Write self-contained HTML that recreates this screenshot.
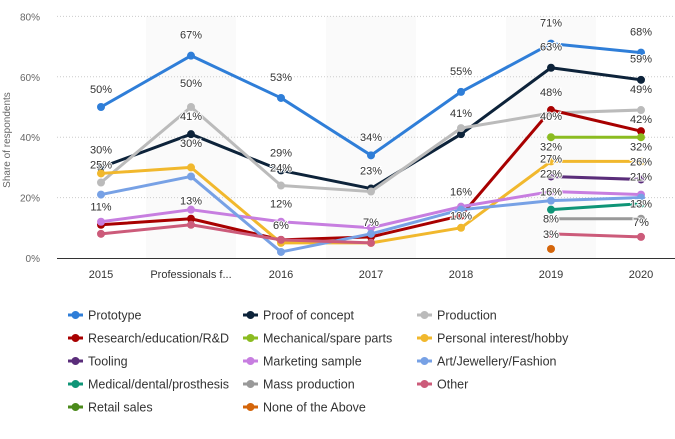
<!DOCTYPE html>
<html><head><meta charset="utf-8"><style>
body{margin:0;background:#fff;font-family:"Liberation Sans",sans-serif}
svg text{font-family:"Liberation Sans",sans-serif}
</style></head><body>
<svg id="c" width="675" height="434"></svg>
<script>
const categories=["2015","Professionals f...","2016","2017","2018","2019","2020"];
const seriesNames=["Prototype","Proof of concept","Production","Research/education/R&D","Mechanical/spare parts","Personal interest/hobby","Tooling","Marketing sample","Art/Jewellery/Fashion","Medical/dental/prosthesis","Mass production","Other","Retail sales","None of the Above"];
const seriesColors=["#2f7ed8","#0d233a","#bbbbbb","#a80000","#8bbc21","#f1b82d","#5a2d7a","#c77ee0","#77a1e5","#0f9577","#999999","#cc5b7a","#4b8a1b","#d4650a"];
const prototype=[50,67,53,34,55,71,68];
const proofOfConcept=[30,41,29,23,41,63,59];
const production=[25,50,24,22,43,48,49];
const research=[11,13,6,7,14,49,42];
const mechanical=[null,null,null,null,null,40,40];
const personal=[28,30,5,5,10,32,32];
const tooling=[null,null,null,null,null,27,26];
const marketing=[12,16,12,10,17,22,21];
const art=[21,27,2,8,16,19,20];
const medical=[null,null,null,null,null,16,18];
const massProduction=[null,null,null,null,null,13,13];
const other=[8,11,6,5,null,8,7];
const retail=[null,null,null,null,null,null,null];
const noneAbove=[null,null,null,null,null,3,null];
const seriesValues=[prototype,proofOfConcept,production,research,mechanical,personal,tooling,marketing,art,medical,massProduction,other,retail,noneAbove];
const yTicks=[0,20,40,60,80];
const labelText=["50%","67%","53%","34%","55%","71%","68%","30%","41%","29%","23%","63%","59%","25%","50%","24%","41%","40%","49%","42%","48%","32%","32%","27%","26%","22%","21%","16%","16%","13%","11%","13%","12%","6%","7%","10%","8%","7%","3%","30%"];
const labelCat=[0,1,2,3,4,5,6,0,1,2,3,5,6,0,1,2,4,5,6,6,5,5,6,5,6,5,6,4,5,6,0,1,2,2,3,4,5,6,5,1];
const labelVal=[56,74,60,40,62,78,75,36,47,35,29,70,66,31,58,30,48,47,56,46,55,37,37,33,32,28,27,22,22,18,17,19,18,11,12,14,13,12,8,38];
const NS="http://www.w3.org/2000/svg",svg=document.getElementById('c');
const x0=101,dx=90,yBase=258,yScale=3.02;
const xs=i=>x0+i*dx, ys=v=>yBase-v*yScale;
function el(t,a){const e=document.createElementNS(NS,t);for(const k in a)e.setAttribute(k,a[k]);svg.appendChild(e);return e;}
[1,3,5].forEach(i=>{const r=el('rect',{x:xs(i)-45,y:16,width:90,height:242,fill:'#fafafa'});

});
yTicks.forEach(v=>{if(v>0){const l=el('line',{x1:57,x2:675,y1:ys(v),y2:ys(v),stroke:'#ccc','stroke-dasharray':'1,2'});

}
const t=el('text',{x:40,y:ys(v)+4,'text-anchor':'end','font-size':10,fill:'#666'});t.textContent=v+'%';

});
const ax=el('line',{x1:57,x2:675,y1:yBase+0.5,y2:yBase+0.5,stroke:'#333','stroke-width':1});


const yt=el('text',{x:10,y:140,'text-anchor':'middle','font-size':10,fill:'#666',transform:'rotate(-90 10 140)'});yt.textContent='Share of respondents';


categories.forEach((c,i)=>{const t=el('text',{x:xs(i),y:278,'text-anchor':'middle','font-size':11,fill:'#333'});t.textContent=c;

});
seriesValues.forEach((vals,s)=>{let d='';let seg=false;
vals.forEach((v,i)=>{if(v==null){seg=false;return;}d+=(seg?'L':'M')+xs(i)+','+ys(v);seg=true;});
if(d){const p=el('path',{d:d,fill:'none',stroke:seriesColors[s],'stroke-width':3,'stroke-linejoin':'round'});

}
vals.forEach((v,i)=>{if(v==null)return;const c=el('circle',{cx:xs(i),cy:ys(v),r:4,fill:seriesColors[s]});

});});
labelText.forEach((t,i)=>{const e=el('text',{x:xs(labelCat[i]),y:ys(labelVal[i])+4,'text-anchor':'middle','font-size':11,fill:'#333',stroke:'#fff','stroke-width':2,'paint-order':'stroke'});e.textContent=t;

});
const colX=[68,243,417];
seriesNames.forEach((n,i)=>{const cx=colX[i%3],cy=315+Math.floor(i/3)*23;
const g=el('line',{x1:cx,x2:cx+15,y1:cy,y2:cy,stroke:seriesColors[i],'stroke-width':3});


const c=el('circle',{cx:cx+7.5,cy:cy,r:4,fill:seriesColors[i]});


const t=el('text',{x:cx+20,y:cy+4.5,'font-size':12.5,fill:'#333'});t.textContent=n;

});
</script>
</body></html>
